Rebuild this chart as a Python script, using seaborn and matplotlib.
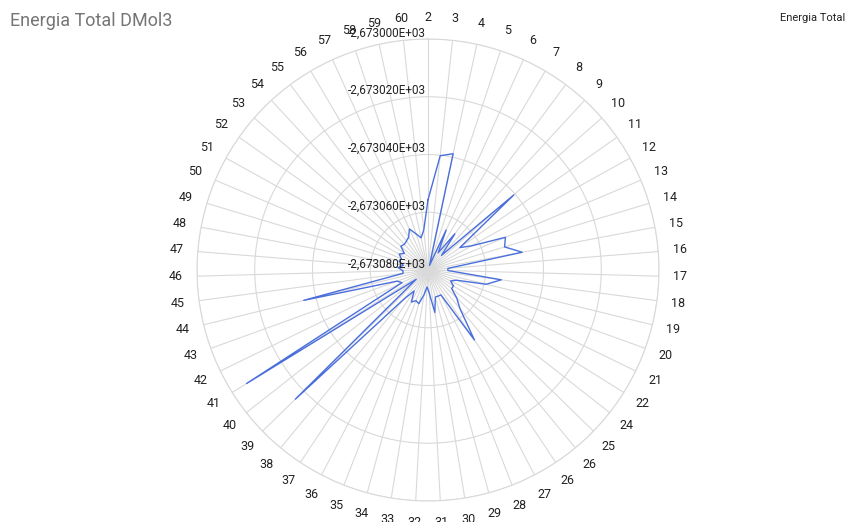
import numpy as np
import matplotlib
matplotlib.use("Agg")
import matplotlib.pyplot as plt
import seaborn as sns

categories = ["2","3","4","5","6","7","8","9","10","11","12","13","14","15","16","17",
              "18","19","20","21","22","24","25","26","26","27","28","29","30","31",
              "32","33","34","35","36","37","38","39","40","41","42","43","44","45",
              "46","47","48","49","50","51","52","53","54","55","56","57","58","59","60"]

energia_total = [-2673.0557, -2673.0402, -2673.0388, -2673.0783, -2673.0648, -2673.0731,
                 -2673.0644, -2673.0731, -2673.0405, -2673.0665, -2673.0627, -2673.0509,
                 -2673.0523, -2673.0468, -2673.0731, -2673.0731, -2673.0544, -2673.0592,
                 -2673.0696, -2673.0713, -2673.0696, -2673.0696, -2673.0661, -2673.0627,
                 -2673.0509, -2673.0703, -2673.0703, -2673.0703, -2673.0651, -2673.0720,
                 -2673.0741, -2673.0713, -2673.0679, -2673.0686, -2673.0675, -2673.0713,
                 -2673.0668, -2673.0159, -2673.0748, -2673.0059, -2673.0700, -2673.0686,
                 -2673.0357, -2673.0713, -2673.0713, -2673.0696, -2673.0713, -2673.0696,
                 -2673.0700, -2673.0686, -2673.0700, -2673.0675, -2673.0679, -2673.0675,
                 -2673.0668, -2673.0644, -2673.0668, -2673.0686, -2673.0661]

ring_values = [-2673.080, -2673.060, -2673.040, -2673.020, -2673.000]
ring_labels = ["-2,673080E+03", "-2,673060E+03", "-2,673040E+03", "-2,673020E+03", "-2,673000E+03"]

sns.set_theme(style="white")
plt.rcParams["font.family"] = ["Roboto", "DejaVu Sans"]

W, H = 847, 522
fig = plt.figure(figsize=(W / 100, H / 100), dpi=100)
cx, cy, R = 428, 270, 231
ax = fig.add_axes([(cx - R) / W, (H - cy - R) / H, 2 * R / W, 2 * R / H], projection="polar")
ax.set_theta_zero_location("N")
ax.set_theta_direction(-1)

n = len(categories)
theta = np.arange(n) * 2 * np.pi / n
vals = np.clip(np.array(energia_total), ring_values[0], ring_values[-1])
th_closed = np.append(theta, theta[0])
v_closed = np.append(vals, vals[0])

sns.lineplot(x=th_closed, y=v_closed, ax=ax, sort=False, color="#4a6fdc",
             linewidth=1.0, estimator=None)

ax.set_ylim(ring_values[0], ring_values[-1])
ax.set_yticks(ring_values)
ax.set_yticklabels([])
ax.set_xticks(theta)
ax.set_xticklabels(categories, fontsize=9, color="#222222")
ax.tick_params(axis="x", pad=2.5)
ax.grid(True, color="#d9d9d9", linewidth=0.8)
ax.spines["polar"].set_color("#d9d9d9")
ax.spines["polar"].set_linewidth(0.8)
ax.set_xlabel("")
ax.set_ylabel("")
if ax.get_legend():
    ax.get_legend().remove()

for rv, rl in zip(ring_values, ring_labels):
    ax.annotate(rl, xy=(0, rv), xytext=(-2, 6), textcoords="offset pixels",
                ha="right", va="center", fontsize=8.5, color="#222222")

fig.text(10 / W, 1 - 21 / H, "Energia Total DMol3", fontsize=13, color="#757575",
         ha="left", va="center")
fig.text(845 / W, 1 - 18 / H, "Energia Total", fontsize=8, color="#222222",
         ha="right", va="center")

fig.savefig("out.png", dpi=100)
